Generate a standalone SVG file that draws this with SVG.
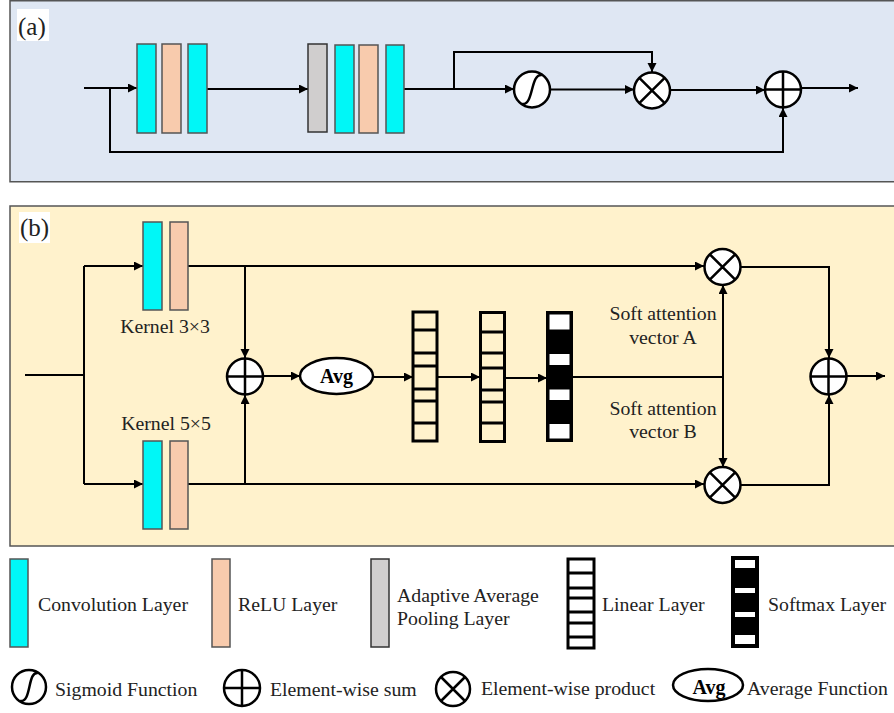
<svg xmlns="http://www.w3.org/2000/svg" width="894" height="713" viewBox="0 0 894 713">
<style>
.txt{font-family:"Liberation Serif","Times New Roman",serif;font-size:19.8px;fill:#222}
.lbl{font-family:"Liberation Serif","Times New Roman",serif;font-size:25px;fill:#222}
.bold{font-family:"Liberation Serif","Times New Roman",serif;font-size:20px;font-weight:bold;fill:#000}
.conv{fill:#00f7f7;stroke:#555;stroke-width:1.5}
.relu{fill:#f8cbad;stroke:#555;stroke-width:1.5}
.pool{fill:#d0cece;stroke:#333;stroke-width:1.5}
.op{fill:#fff;stroke:#000;stroke-width:2.5}
.opl{fill:none;stroke:#000;stroke-width:2.5}
.lin{fill:none;stroke:#000;stroke-width:3}
.ln{fill:none;stroke:#000;stroke-width:2}
.ar{marker-end:url(#arr)}
</style>
<defs>
<marker id="arr" markerUnits="userSpaceOnUse" markerWidth="10" markerHeight="10" refX="9" refY="4.5" orient="auto">
<path d="M0,0 L9,4.5 L0,9 z" fill="#000"/>
</marker>
</defs>

<!-- panel backgrounds -->
<g id="panelA">
<rect x="10" y="0.75" width="890" height="181" fill="#dfe7f3" stroke="#555" stroke-width="1.5"/>
<rect x="17" y="9" width="32" height="32" fill="#fff"/>
<text class="lbl" x="18" y="35">(a)</text>
</g>
<g id="panelB">
<rect x="10" y="206" width="890" height="340" fill="#fff2cc" stroke="#555" stroke-width="1.5"/>
<rect x="19" y="212" width="31" height="31" fill="#fff"/>
<text class="lbl" x="20" y="236">(b)</text>
</g>

<!-- connectors -->
<g id="connectors">
<path class="ln ar" d="M84,88 H137"/>
<path class="ln ar" d="M110,88 V152 H783 V108"/>
<path class="ln ar" d="M207,89 H308"/>
<path class="ln ar" d="M404,89 H514"/>
<path class="ln ar" d="M454,89 V52 H652 V72"/>
<path class="ln ar" d="M550,89.5 H634"/>
<path class="ln ar" d="M670,90 H765"/>
<path class="ln ar" d="M801,88 H858"/>

<path class="ln" d="M25,375 H84"/>
<path class="ln" d="M84,266 V484"/>
<path class="ln ar" d="M84,266 H143"/>
<path class="ln ar" d="M84,484 H143"/>
<path class="ln ar" d="M188,266 H704"/>
<path class="ln ar" d="M188,484 H704"/>
<path class="ln ar" d="M245,266 V358"/>
<path class="ln ar" d="M245,484 V395"/>
<path class="ln ar" d="M263,376 H300"/>
<path class="ln ar" d="M373,377 H413"/>
<path class="ln ar" d="M437,377 H480"/>
<path class="ln ar" d="M505,378 H547"/>
<path class="ln" d="M572,377 H723"/>
<path class="ln ar" d="M723,377 V285"/>
<path class="ln ar" d="M723,377 V467"/>
<path class="ln ar" d="M741,267 H829 V358"/>
<path class="ln ar" d="M741,485 H829 V395"/>
<path class="ln ar" d="M847,376 H885"/>
</g>

<!-- panel (a) nodes -->
<g id="a-block1">
<rect class="conv" x="137" y="44" width="19" height="89"/>
<rect class="relu" x="162" y="44" width="19" height="89"/>
<rect class="conv" x="188" y="44" width="19" height="89"/>
</g>
<g id="a-block2">
<rect class="pool" x="308" y="44" width="19" height="88"/>
<rect class="conv" x="335" y="45" width="19" height="88"/>
<rect class="relu" x="359" y="45" width="19" height="88"/>
<rect class="conv" x="386" y="45" width="18" height="88"/>
</g>
<g id="a-sigmoid">
<circle class="op" cx="532" cy="89.5" r="18"/>
<path class="opl" d="M522,104 C534,106 530,73 542,75"/>
</g>
<g id="a-product">
<circle class="op" cx="652" cy="90.5" r="18"/>
<path class="opl" d="M639.3,77.8 L664.7,103.2 M664.7,77.8 L639.3,103.2"/>
</g>
<g id="a-sum">
<circle class="op" cx="783" cy="89.5" r="18"/>
<path class="opl" d="M765,89.5 H801 M783,71.5 V107.5"/>
</g>

<!-- panel (b) nodes -->
<g id="b-kernel3">
<rect class="conv" x="143" y="222" width="19" height="88"/>
<rect class="relu" x="170" y="222" width="18" height="88"/>
<text class="txt" x="165" y="333" text-anchor="middle">Kernel 3×3</text>
</g>
<g id="b-kernel5">
<rect class="conv" x="143" y="441" width="19" height="88"/>
<rect class="relu" x="170" y="441" width="18" height="88"/>
<text class="txt" x="166" y="430" text-anchor="middle">Kernel 5×5</text>
</g>
<g id="b-sum1">
<circle class="op" cx="245" cy="376.5" r="18"/>
<path class="opl" d="M227,376.5 H263 M245,358.5 V394.5"/>
</g>
<g id="b-avg">
<ellipse class="op" cx="336.5" cy="376" rx="36.5" ry="18"/>
<text class="bold" x="336.5" y="383" text-anchor="middle">Avg</text>
</g>
<g id="b-linear1">
<rect class="lin" x="413" y="312" width="24" height="129"/>
<path class="lin" d="M413,330 H437 M413,353 H437 M413,366 H437 M413,389 H437 M413,401 H437 M413,423 H437"/>
</g>
<g id="b-linear2">
<rect class="lin" x="480.5" y="312.5" width="24" height="129"/>
<path class="lin" d="M480.5,332 H504.5 M480.5,353 H504.5 M480.5,368 H504.5 M480.5,390 H504.5 M480.5,402 H504.5 M480.5,423 H504.5"/>
</g>
<g id="b-softmax">
<rect x="546" y="311" width="27" height="131" fill="#000"/>
<rect x="549.5" y="314.5" width="20" height="15" fill="#fff"/>
<rect x="549.5" y="354" width="20" height="11" fill="#fff"/>
<rect x="549.5" y="389.5" width="20" height="10.5" fill="#fff"/>
<rect x="549.5" y="424" width="20" height="14.5" fill="#fff"/>
</g>
<g id="b-labels">
<text class="txt" x="663" y="320" text-anchor="middle">Soft attention</text>
<text class="txt" x="663" y="344" text-anchor="middle">vector A</text>
<text class="txt" x="663" y="415" text-anchor="middle">Soft attention</text>
<text class="txt" x="663" y="438" text-anchor="middle">vector B</text>
</g>
<g id="b-product-top">
<circle class="op" cx="722.5" cy="267" r="18"/>
<path class="opl" d="M709.8,254.3 L735.2,279.7 M735.2,254.3 L709.8,279.7"/>
</g>
<g id="b-product-bottom">
<circle class="op" cx="722.5" cy="485" r="18"/>
<path class="opl" d="M709.8,472.3 L735.2,497.7 M735.2,472.3 L709.8,497.7"/>
</g>
<g id="b-sum2">
<circle class="op" cx="828.5" cy="376.5" r="18"/>
<path class="opl" d="M810.5,376.5 H846.5 M828.5,358.5 V394.5"/>
</g>

<!-- legend -->
<g id="legend-conv">
<rect class="conv" x="10" y="559" width="18" height="88"/>
<text class="txt" x="38" y="611">Convolution Layer</text>
</g>
<g id="legend-relu">
<rect class="relu" x="212" y="559" width="18" height="88"/>
<text class="txt" x="238" y="611">ReLU Layer</text>
</g>
<g id="legend-pool">
<rect class="pool" x="371" y="559" width="18" height="88"/>
<text class="txt" x="397" y="602">Adaptive Average</text>
<text class="txt" x="397" y="625">Pooling Layer</text>
</g>
<g id="legend-linear">
<rect class="lin" x="568" y="559" width="26" height="89"/>
<path class="lin" d="M568,573 H594 M568,588 H594 M568,598 H594 M568,612 H594 M568,623 H594 M568,637 H594"/>
<text class="txt" x="602" y="611">Linear Layer</text>
</g>
<g id="legend-softmax">
<rect x="731" y="556" width="28" height="92" fill="#000"/>
<rect x="735" y="560" width="20" height="8" fill="#fff"/>
<rect x="735" y="588" width="20" height="5" fill="#fff"/>
<rect x="735" y="612" width="20" height="5" fill="#fff"/>
<rect x="735" y="635" width="20" height="9" fill="#fff"/>
<text class="txt" x="768" y="611">Softmax Layer</text>
</g>
<g id="legend-sigmoid">
<circle class="op" cx="29" cy="687" r="17"/>
<path class="opl" d="M20,701 C32,703 27,671 38,673"/>
<text class="txt" x="55" y="696">Sigmoid Function</text>
</g>
<g id="legend-sum">
<circle class="op" cx="242" cy="688" r="18"/>
<path class="opl" d="M224,688 H260 M242,670 V706"/>
<text class="txt" x="270" y="696">Element-wise sum</text>
</g>
<g id="legend-product">
<circle class="op" cx="453" cy="689" r="17"/>
<path class="opl" d="M441,677 L465,701 M465,677 L441,701"/>
<text class="txt" x="481" y="695">Element-wise product</text>
</g>
<g id="legend-avg">
<ellipse class="op" cx="708" cy="685" rx="35" ry="16"/>
<text class="bold" x="709" y="694" text-anchor="middle">Avg</text>
<text class="txt" x="747" y="695">Average Function</text>
</g>
</svg>
